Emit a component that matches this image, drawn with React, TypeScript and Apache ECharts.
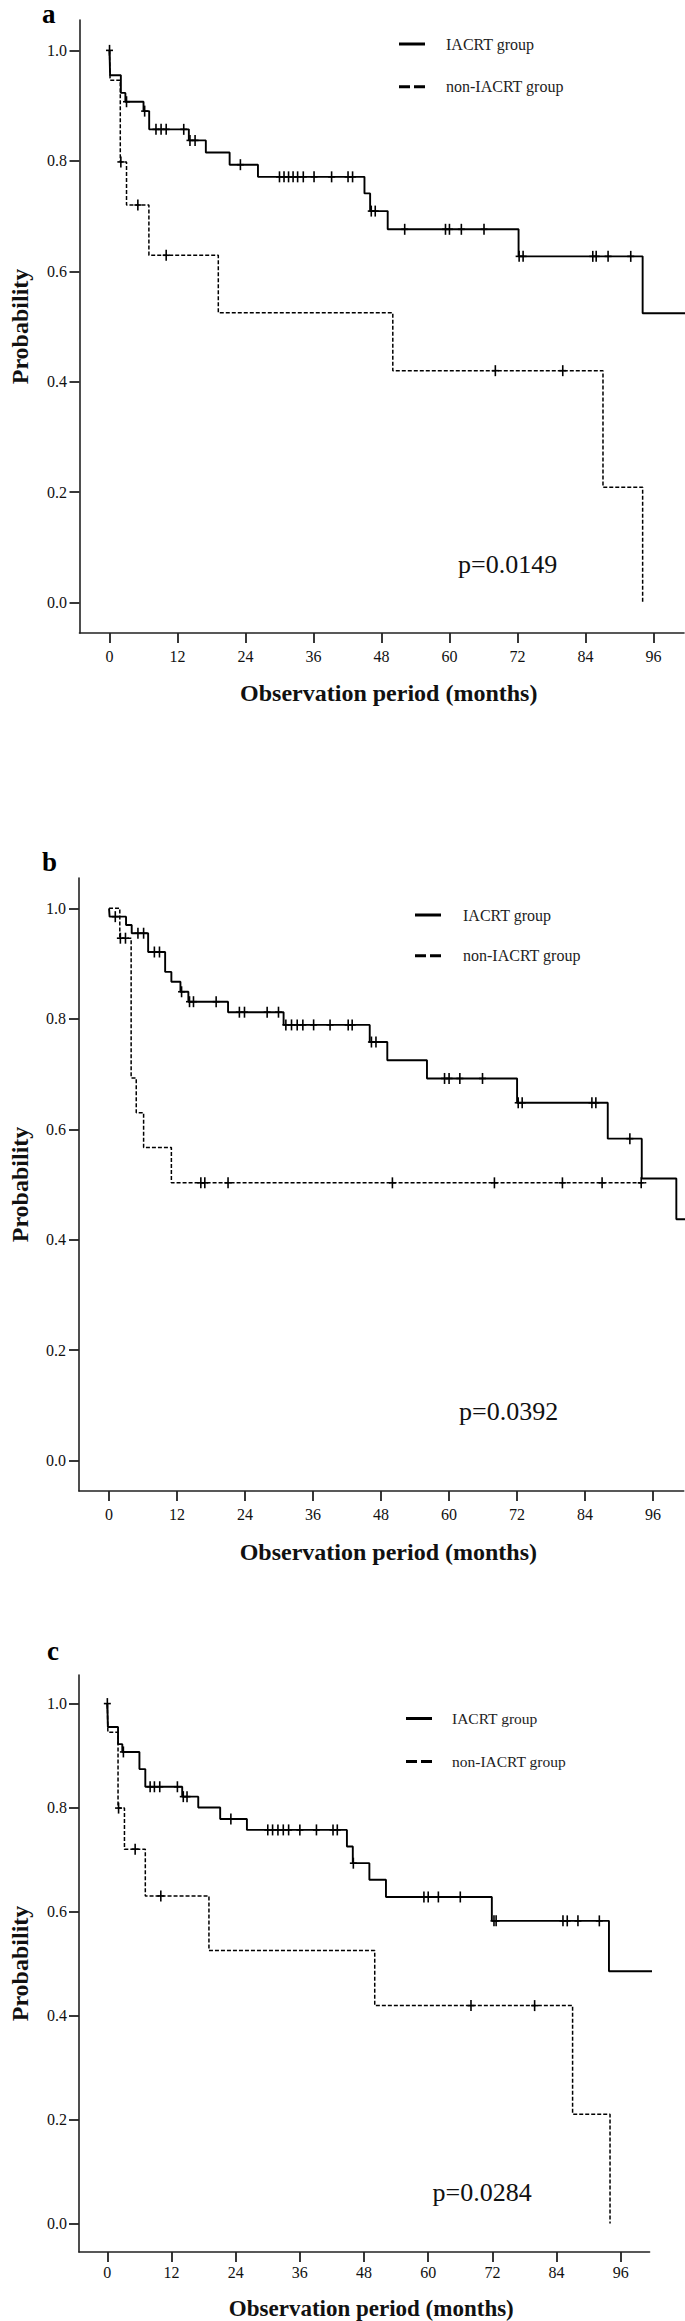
import React, { useEffect, useRef } from "react";
import * as echarts from "echarts";

// ---------- tick labels / categories ----------
const xTicks = [0, 12, 24, 36, 48, 60, 72, 84, 96];
const yTicks = [0, 0.2, 0.4, 0.6, 0.8, 1.0];
const groupNames = ["IACRT group", "non-IACRT group"];
const panelLetters = ["a", "b", "c"];
const pValues = ["p=0.0149", "p=0.0392", "p=0.0284"];

// ---------- panel a ----------
const aIacrtTime = [0, 0.1, 2.0, 2.8, 6.0, 7.0, 14.0, 17.0, 21.2, 26.2, 45.0, 46.0, 49.1, 72.2, 94.1];
const aIacrtSurv = [1.0, 0.955, 0.923, 0.907, 0.89, 0.857, 0.837, 0.815, 0.793, 0.771, 0.741, 0.709, 0.676, 0.627, 0.524];
const aIacrtEnd = 102;
const aIacrtCens = [0, 3.0, 6.2, 8.2, 9.1, 10.0, 13.1, 14.2, 15.1, 23.1, 30.0, 30.8, 31.6, 32.4, 33.2, 34.2, 36.1, 39.2, 42.1, 42.9, 46.2, 46.9, 52.1, 59.3, 60.0, 62.1, 66.1, 72.3, 73.0, 85.3, 85.9, 88.0, 92.0];
const aNonTime = [0, 0.1, 1.9, 3.0, 6.95, 19.2, 50.0, 87.1, 94.1];
const aNonSurv = [1.0, 0.946, 0.798, 0.72, 0.629, 0.525, 0.42, 0.209, 0.0];
const aNonEnd = 94.1;
const aNonCens = [2.0, 5.0, 10.0, 68.1, 80.0];

// ---------- panel b ----------
const bIacrtTime = [0, 0.1, 3.0, 4.0, 6.9, 9.9, 11.0, 12.6, 14.0, 21.0, 30.8, 46.0, 49.1, 56.1, 72.0, 88.0, 94.0, 100.1];
const bIacrtSurv = [1.0, 0.985, 0.97, 0.955, 0.921, 0.885, 0.867, 0.849, 0.831, 0.812, 0.789, 0.758, 0.725, 0.692, 0.648, 0.583, 0.511, 0.437];
const bIacrtEnd = 102;
const bIacrtCens = [1.1, 5.1, 6.1, 8.0, 8.9, 12.8, 14.2, 14.9, 18.9, 23.0, 23.9, 27.9, 29.9, 31.2, 32.2, 33.2, 34.2, 36.1, 39.0, 42.2, 42.9, 46.3, 47.1, 59.2, 60.0, 61.9, 65.9, 72.2, 72.9, 85.2, 85.9, 91.9];
const bNonTime = [0, 1.9, 3.9, 4.8, 6.1, 11.0];
const bNonSurv = [1.0, 0.946, 0.693, 0.63, 0.567, 0.503];
const bNonEnd = 94.8;
const bNonCens = [2.0, 2.9, 16.2, 16.9, 21.0, 50.0, 68.0, 80.0, 87.0, 93.9];

// ---------- panel c ----------
const cIacrtTime = [0, 0.1, 2.0, 2.8, 6.0, 7.1, 14.0, 17.0, 21.1, 26.1, 44.8, 45.9, 49.0, 52.1, 71.9, 93.8];
const cIacrtSurv = [1.0, 0.955, 0.922, 0.907, 0.874, 0.84, 0.821, 0.8, 0.778, 0.757, 0.725, 0.693, 0.661, 0.628, 0.582, 0.485];
const cIacrtEnd = 102;
const cIacrtCens = [0, 3.0, 8.0, 8.8, 9.8, 13.1, 14.2, 14.9, 23.1, 30.0, 30.9, 31.9, 32.9, 33.9, 36.0, 39.1, 42.2, 43.0, 46.0, 59.2, 60.0, 61.9, 66.0, 72.3, 72.7, 85.2, 86.0, 88.0, 92.0];
const cNonTime = [0, 0.1, 2.0, 3.2, 7.1, 19.0, 50.0, 87.0, 94.0];
const cNonSurv = [1.0, 0.945, 0.799, 0.72, 0.63, 0.525, 0.419, 0.21, 0.0];
const cNonEnd = 94.0;
const cNonCens = [2.1, 5.2, 10.0, 68.0, 79.9];

// ---------- axis ranges ----------
const X_MIN = -5.3;
const X_MAX = 101.4;
const Y_MIN = -0.055;
const Y_MAX = 1.055;

const FONT = "'Liberation Serif', 'Times New Roman', serif";

// layout of each panel (page pixels)
const layouts = [
  { left: 71.5, top: 20, width: 612.5, height: 613, yGap: 47.5, xGap: 48, xMargin: 15.5, yMargin: 12.5, tickFont: 16, nameFont: 24, legLeft: 399, legTop: 36, legGap: 26.7, legPad: 16, legFont: 16, letterX: 42, letterY: 0, letterAlign: "top", pX: 458, pY: 564.3 },
  { left: 70, top: 878, width: 613.7, height: 613, yGap: 47, xGap: 48.5, xMargin: 15.3, yMargin: 13, tickFont: 16, nameFont: 24, legLeft: 415, legTop: 907, legGap: 24.7, legPad: 17, legFont: 16, letterX: 42, letterY: 862, letterAlign: "middle", pX: 459, pY: 1411.7 },
  { left: 70, top: 1675, width: 579.6, height: 578.3, yGap: 47, xGap: 45, xMargin: 12.5, yMargin: 12, tickFont: 16, nameFont: 23, legLeft: 406, legTop: 1710.5, legGap: 27, legPad: 15, legFont: 15.5, letterX: 47, letterY: 1651, letterAlign: "middle", pX: 432.5, pY: 2192 },
];

const panelData = [
  { iT: aIacrtTime, iS: aIacrtSurv, iE: aIacrtEnd, iC: aIacrtCens, nT: aNonTime, nS: aNonSurv, nE: aNonEnd, nC: aNonCens },
  { iT: bIacrtTime, iS: bIacrtSurv, iE: bIacrtEnd, iC: bIacrtCens, nT: bNonTime, nS: bNonSurv, nE: bNonEnd, nC: bNonCens },
  { iT: cIacrtTime, iS: cIacrtSurv, iE: cIacrtEnd, iC: cIacrtCens, nT: cNonTime, nS: cNonSurv, nE: cNonEnd, nC: cNonCens },
];

function stepData(times: number[], surv: number[], end: number) {
  const d = times.map((t, i) => [t, surv[i]]);
  const last = times[times.length - 1];
  if (end > last) d.push([end, surv[surv.length - 1]]);
  return d;
}

function survAt(times: number[], surv: number[], t: number) {
  let v = surv[0];
  for (let i = 0; i < times.length; i++) if (times[i] <= t) v = surv[i];
  return v;
}

const censorRender = (params: any, api: any) => {
  const p = api.coord([api.value(0), api.value(1)]);
  const st = { stroke: "#000", lineWidth: 1.6 };
  return {
    type: "group",
    children: [
      { type: "line", shape: { x1: p[0], y1: p[1] - 5.5, x2: p[0], y2: p[1] + 5.5 }, style: st },
      { type: "line", shape: { x1: p[0] - 3.5, y1: p[1], x2: p[0] + 3.5, y2: p[1] }, style: st },
    ],
  };
};

const SOLID_ICON = "path://M0,0H26V3H0Z";
const DASH_ICON = "path://M0,0H11V3H0Z M15,0H26V3H15Z";

export default function App() {
  const ref = useRef<HTMLDivElement>(null);
  useEffect(() => {
    document.body.style.margin = "0";
    if (!ref.current) return;
    const chart = echarts.init(ref.current, undefined, { renderer: "svg" });

    const grid: any[] = [];
    const xAxis: any[] = [];
    const yAxis: any[] = [];
    const series: any[] = [];
    const legend: any[] = [];
    const graphic: any[] = [];

    layouts.forEach((L, i) => {
      const D = panelData[i];
      grid.push({ left: L.left, top: L.top, width: L.width, height: L.height, containLabel: false });
      xAxis.push({
        gridIndex: i,
        type: "value",
        min: X_MIN,
        max: X_MAX,
        axisLine: { show: true, onZero: false, lineStyle: { color: "#222", width: 1.6 } },
        axisTick: { show: true, customValues: xTicks, length: 10, lineStyle: { color: "#222", width: 1.8 } },
        axisLabel: { customValues: xTicks, margin: L.xMargin, fontSize: L.tickFont, fontFamily: FONT, color: "#111" },
        splitLine: { show: false },
        name: "Observation period (months)",
        nameLocation: "middle",
        nameGap: L.xGap,
        nameTextStyle: { fontFamily: FONT, fontWeight: "bold", fontSize: L.nameFont, color: "#111", padding: [0, 0, 0, 14] },
      });
      yAxis.push({
        gridIndex: i,
        type: "value",
        min: Y_MIN,
        max: Y_MAX,
        axisLine: { show: true, onZero: false, lineStyle: { color: "#222", width: 1.6 } },
        axisTick: { show: true, customValues: yTicks, length: 10, lineStyle: { color: "#222", width: 1.8 } },
        axisLabel: {
          customValues: yTicks,
          formatter: (v: number) => v.toFixed(1),
          margin: L.yMargin,
          fontSize: L.tickFont,
          fontFamily: FONT,
          color: "#111",
        },
        splitLine: { show: false },
        name: "Probability",
        nameLocation: "middle",
        nameRotate: 90,
        nameGap: L.yGap,
        nameTextStyle: { fontFamily: FONT, fontWeight: "bold", fontSize: 24, color: "#111" },
      });

      series.push({
        type: "line",
        name: groupNames[0],
        xAxisIndex: i,
        yAxisIndex: i,
        data: stepData(D.iT, D.iS, D.iE),
        step: "end",
        symbol: "none",
        silent: true,
        itemStyle: { color: "#000" },
        lineStyle: { color: "#000", width: 1.9 },
        z: 3,
      });
      series.push({
        type: "line",
        name: groupNames[1],
        xAxisIndex: i,
        yAxisIndex: i,
        data: stepData(D.nT, D.nS, D.nE),
        step: "end",
        symbol: "none",
        silent: true,
        itemStyle: { color: "#000" },
        lineStyle: { color: "#000", width: 1.5, type: [4, 2] },
        z: 2,
      });
      series.push({
        type: "custom",
        name: groupNames[0] + " censored",
        xAxisIndex: i,
        yAxisIndex: i,
        silent: true,
        renderItem: censorRender,
        data: D.iC.map((t) => [t, survAt(D.iT, D.iS, t)]),
        z: 4,
      });
      series.push({
        type: "custom",
        name: groupNames[1] + " censored",
        xAxisIndex: i,
        yAxisIndex: i,
        silent: true,
        renderItem: censorRender,
        data: D.nC.map((t) => [t, survAt(D.nT, D.nS, t)]),
        z: 4,
      });

      legend.push({
        orient: "vertical",
        left: L.legLeft,
        top: L.legTop,
        padding: 0,
        itemGap: L.legGap,
        itemWidth: 26,
        itemHeight: 3.5,
        selectedMode: false,
        textStyle: { fontFamily: FONT, fontSize: L.legFont, color: "#222", padding: [0, 0, 0, L.legPad] },
        data: [
          { name: groupNames[0], icon: SOLID_ICON, itemStyle: { color: "#000" } },
          { name: groupNames[1], icon: DASH_ICON, itemStyle: { color: "#000" } },
        ],
      });

      graphic.push({
        type: "text",
        x: L.letterX,
        y: L.letterY,
        style: { text: panelLetters[i], font: `bold 27px ${FONT}`, fill: "#000", verticalAlign: L.letterAlign, align: "left" },
      });
      graphic.push({
        type: "text",
        x: L.pX,
        y: L.pY,
        style: { text: pValues[i], font: `26px ${FONT}`, fill: "#111", verticalAlign: "middle", align: "left" },
      });
    });

    chart.setOption({
      animation: false,
      backgroundColor: "#fff",
      grid,
      xAxis,
      yAxis,
      series,
      legend,
      graphic,
    });
    return () => chart.dispose();
  }, []);
  return <div ref={ref} style={{ width: 685, height: 2321 }} />;
}
